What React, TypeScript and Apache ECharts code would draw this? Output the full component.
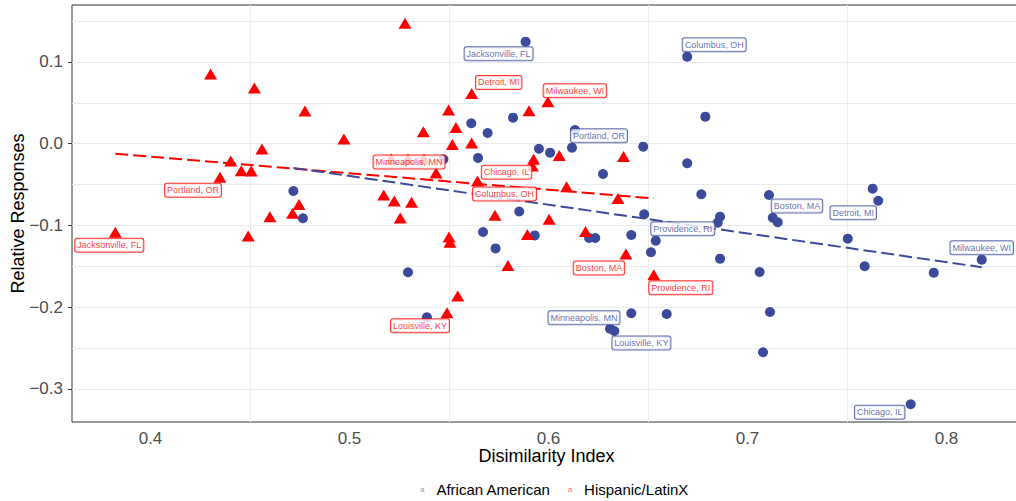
import React, { useEffect, useRef } from "react";
import * as echarts from "echarts";

// African American: dissimilarity index vs. relative responses
const aaDissimilarity = [
  0.4718, 0.4766, 0.5294, 0.5389, 0.5472, 0.5612, 0.5694, 0.5646, 0.5671, 0.5734,
  0.5822, 0.5853, 0.5885, 0.5931, 0.5952, 0.6008, 0.6118, 0.6133, 0.6204, 0.6235,
  0.6274, 0.6416, 0.6416, 0.6476, 0.6481, 0.6515, 0.6539, 0.6309, 0.6331, 0.6594,
  0.6697, 0.6788, 0.6697, 0.6768, 0.685, 0.6862, 0.6862, 0.7061, 0.7078, 0.7108,
  0.7113, 0.7127, 0.7152, 0.7504, 0.7589, 0.7629, 0.7657, 0.782, 0.7936, 0.8177,
];
const aaResponse = [
  -0.0578, -0.0912, -0.1572, -0.2123, -0.019, 0.025, 0.0131, -0.0174, -0.108, -0.1281,
  0.0319, -0.0829, 0.1248, -0.1122, -0.0061, -0.0109, -0.0048, 0.0168, -0.1153, -0.1153,
  -0.037, -0.1116, -0.2074, -0.0036, -0.0863, -0.1328, -0.1186, -0.2262, -0.2291, -0.2083,
  0.1065, 0.0331, -0.0239, -0.0618, -0.0966, -0.0892, -0.1406, -0.1569, -0.2551, -0.0627,
  -0.2058, -0.0905, -0.0961, -0.1161, -0.1499, -0.055, -0.0697, -0.3187, -0.1577, -0.1418,
];
const aaCities = [
  "Jacksonville, FL", "Portland, OR", "Minneapolis, MN", "Louisville, KY", "Providence, RI",
  "Columbus, OH", "Boston, MA", "Detroit, MI", "Chicago, IL", "Milwaukee, WI",
];
const aaCityPoint = [12, 16, 27, 28, 26, 30, 39, 46, 47, 49];

// Hispanic/LatinX: dissimilarity index vs. relative responses
const hlDissimilarity = [
  0.3823, 0.4302, 0.4349, 0.4403, 0.4456, 0.4506, 0.4522, 0.456, 0.4491, 0.46,
  0.4714, 0.4746, 0.4776, 0.4972, 0.5172, 0.5225, 0.5255, 0.5312, 0.5279, 0.5209,
  0.5294, 0.5374, 0.5371, 0.5435, 0.5498, 0.5535, 0.5517, 0.55, 0.5505, 0.5544,
  0.549, 0.5614, 0.5614, 0.5643, 0.5731, 0.5796, 0.5894, 0.5902, 0.5997, 0.5925,
  0.5919, 0.6054, 0.6003, 0.6091, 0.6186, 0.6377, 0.6349, 0.6389, 0.6529,
];
const hlResponse = [
  -0.1083, 0.0853, -0.041, -0.0211, -0.033, -0.0333, 0.0682, -0.0064, -0.1128, -0.0892,
  -0.0851, -0.0743, 0.0401, 0.0058, -0.0627, -0.07, -0.0908, -0.0716, 0.1473, -0.0187,
  -0.0187, -0.0187, 0.0146, -0.0358, 0.0413, 0.0199, -0.0009, -0.1141, -0.1205, -0.1862,
  -0.2067, 0.0615, 0.0009, -0.0456, -0.0874, -0.1489, -0.111, 0.0403, 0.0514, -0.0189,
  -0.0272, -0.0144, -0.0924, -0.0525, -0.1073, -0.0156, -0.067, -0.1349, -0.1602,
];
const hlCities = [
  "Jacksonville, FL", "Portland, OR", "Minneapolis, MN", "Louisville, KY", "Detroit, MI",
  "Columbus, OH", "Chicago, IL", "Milwaukee, WI", "Boston, MA", "Providence, RI",
];
const hlCityPoint = [0, 2, 23, 30, 31, 33, 39, 38, 47, 48];

const xTicks = [0.4, 0.5, 0.6, 0.7, 0.8];
const yTicks = [-0.3, -0.2, -0.1, 0, 0.1];
const xGridLines = [0.4542, 0.5542, 0.6543, 0.7544];
const yGridLines = [-0.3, -0.25, -0.2, -0.15, -0.1, -0.05, 0, 0.05, 0.1, 0.15];

const BLUE = "#3b4a9a";
const RED = "#ff0000";
const FONT = "'Liberation Sans', Arial, Helvetica, sans-serif";

// Label box placement around each city's point (pixels)
const aaLabelShift: Record<string, [number, number]> = {
  "Jacksonville, FL": [-27, 12],
  "Portland, OR": [27, -12],
  "Minneapolis, MN": [-26, -11],
  "Louisville, KY": [27, 12],
  "Providence, RI": [27, -12],
  "Columbus, OH": [27, -12],
  "Boston, MA": [28, 11],
  "Detroit, MI": [-25, 12],
  "Chicago, IL": [-31, 8],
  "Milwaukee, WI": [0, -12],
};
const hlLabelShift: Record<string, [number, number]> = {
  "Jacksonville, FL": [-6, 13],
  "Portland, OR": [-27, 13],
  "Minneapolis, MN": [-27, -11],
  "Louisville, KY": [-27, 13],
  "Detroit, MI": [27, -11],
  "Columbus, OH": [27, 13],
  "Chicago, IL": [-27, 13],
  "Milwaukee, WI": [27, -11],
  "Boston, MA": [-27, 14],
  "Providence, RI": [27, 13],
};

function lmEnds(xs: number[], ys: number[]): number[][] {
  const n = xs.length;
  const mx = xs.reduce((a, b) => a + b, 0) / n;
  const my = ys.reduce((a, b) => a + b, 0) / n;
  let sxy = 0;
  let sxx = 0;
  for (let i = 0; i < n; i++) {
    sxy += (xs[i] - mx) * (ys[i] - my);
    sxx += (xs[i] - mx) * (xs[i] - mx);
  }
  const b = sxy / sxx;
  const a = my - b * mx;
  const lo = Math.min(...xs);
  const hi = Math.max(...xs);
  return [
    [lo, a + b * lo],
    [hi, a + b * hi],
  ];
}

function pairs(xs: number[], ys: number[]) {
  return xs.map((x, i) => [x, ys[i]]);
}

function labelPoints(
  xs: number[],
  ys: number[],
  cities: string[],
  idx: number[],
  shift: Record<string, [number, number]>
) {
  return cities.map((c, k) => ({
    name: c,
    value: [xs[idx[k]], ys[idx[k]]],
    label: { offset: shift[c] },
  }));
}

function labelStyle(color: string) {
  return {
    show: true,
    position: "inside",
    formatter: "{b}",
    color,
    fontFamily: FONT,
    fontSize: 9,
    lineHeight: 10,
    backgroundColor: "#ffffff",
    borderColor: color,
    borderWidth: 1,
    borderRadius: 2,
    padding: [2, 2, 1, 2],
  };
}

function fmt(v: number) {
  const s = Math.abs(v).toFixed(1);
  return v < -1e-9 ? "\u2212" + s : s;
}

export default function App() {
  const ref = useRef<HTMLDivElement>(null);

  useEffect(() => {
    if (!ref.current) return;
    const chart = echarts.init(ref.current, undefined, { renderer: "svg" });

    const legendRich = (c: string) => ({
      a: { fontSize: 8, color: c, fontFamily: FONT },
      s: { width: 12 },
      t: { fontSize: 15, color: "#000", fontFamily: FONT },
    });

    chart.setOption({
      animation: false,
      backgroundColor: "#ffffff",
      grid: {
        left: 72,
        top: 5,
        right: -5,
        bottom: 79,
        show: true,
        outerBoundsMode: "none",
        containLabel: false,
        borderColor: "#333333",
        borderWidth: 1,
        backgroundColor: "transparent",
      },
      xAxis: {
        type: "value",
        min: 0.36055,
        max: 0.83744,
        name: "Disimilarity Index",
        nameLocation: "middle",
        nameGap: 25,
        nameMoveOverlap: false,
        nameTextStyle: { fontFamily: FONT, fontSize: 18, color: "#000" },
        axisLine: { show: false },
        axisTick: { show: false },
        splitLine: { show: false },
        axisLabel: {
          customValues: xTicks,
          formatter: (v: number) => fmt(v),
          fontFamily: FONT,
          fontSize: 17,
          color: "#4d4d4d",
          margin: 8,
        },
      },
      yAxis: {
        type: "value",
        min: -0.3404,
        max: 0.1697,
        name: "Relative Responses",
        nameLocation: "middle",
        nameGap: 45,
        nameMoveOverlap: false,
        nameTextStyle: { fontFamily: FONT, fontSize: 18, color: "#000" },
        axisLine: { show: false },
        axisTick: {
          show: true,
          customValues: yTicks,
          length: 4,
          lineStyle: { color: "#333333" },
        },
        splitLine: { show: false },
        axisLabel: {
          customValues: yTicks,
          formatter: (v: number) => fmt(v),
          fontFamily: FONT,
          fontSize: 17,
          color: "#4d4d4d",
          margin: 9,
        },
      },
      legend: {
        left: 410,
        top: 477,
        icon: "none",
        itemWidth: 0,
        itemHeight: 0,
        itemGap: 12,
        selectedMode: false,
        formatter: (n: string) => `{a|a}{s|}{t|${n}}`,
        data: [
          {
            name: "African American",
            textStyle: { rich: legendRich("rgba(59,74,154,0.65)") },
          },
          {
            name: "Hispanic/LatinX",
            textStyle: { rich: legendRich("rgba(255,0,0,0.65)") },
          },
        ],
      },
      series: [
        {
          type: "line",
          name: "grid",
          data: [],
          silent: true,
          z: 1,
          markLine: {
            z: 1,
            silent: true,
            symbol: "none",
            animation: false,
            label: { show: false },
            lineStyle: { color: "#ebebeb", width: 1, type: "solid" },
            data: [
              ...yGridLines.map((v) => ({ yAxis: v })),
              ...xGridLines.map((v) => ({ xAxis: v })),
            ],
          },
        },
        {
          type: "line",
          name: "Hispanic/LatinX trend",
          data: lmEnds(hlDissimilarity, hlResponse),
          showSymbol: false,
          symbol: "none",
          silent: true,
          z: 2,
          lineStyle: { color: RED, width: 2, type: [13, 5] },
        },
        {
          type: "line",
          name: "African American trend",
          data: lmEnds(aaDissimilarity, aaResponse),
          showSymbol: false,
          symbol: "none",
          silent: true,
          z: 2,
          lineStyle: { color: BLUE, width: 2, type: [13, 5] },
        },
        {
          type: "scatter",
          name: "African American",
          data: pairs(aaDissimilarity, aaResponse),
          symbol: "circle",
          symbolSize: 10,
          itemStyle: { color: BLUE, opacity: 1 },
          z: 3,
        },
        {
          type: "scatter",
          name: "Hispanic/LatinX",
          data: pairs(hlDissimilarity, hlResponse),
          symbol: "triangle",
          symbolSize: [13, 11],
          itemStyle: { color: RED, opacity: 1 },
          z: 3,
        },
        {
          type: "scatter",
          name: "African American cities",
          data: labelPoints(aaDissimilarity, aaResponse, aaCities, aaCityPoint, aaLabelShift),
          symbolSize: 0,
          silent: true,
          z: 5,
          label: labelStyle(BLUE),
        },
        {
          type: "scatter",
          name: "Hispanic/LatinX cities",
          data: labelPoints(hlDissimilarity, hlResponse, hlCities, hlCityPoint, hlLabelShift),
          symbolSize: 0,
          silent: true,
          z: 5,
          label: labelStyle(RED),
        },
      ],
    });

    return () => chart.dispose();
  }, []);

  return (
    <div
      ref={ref}
      style={{ position: "fixed", left: 0, top: 0, width: 1016, height: 501 }}
    />
  );
}
